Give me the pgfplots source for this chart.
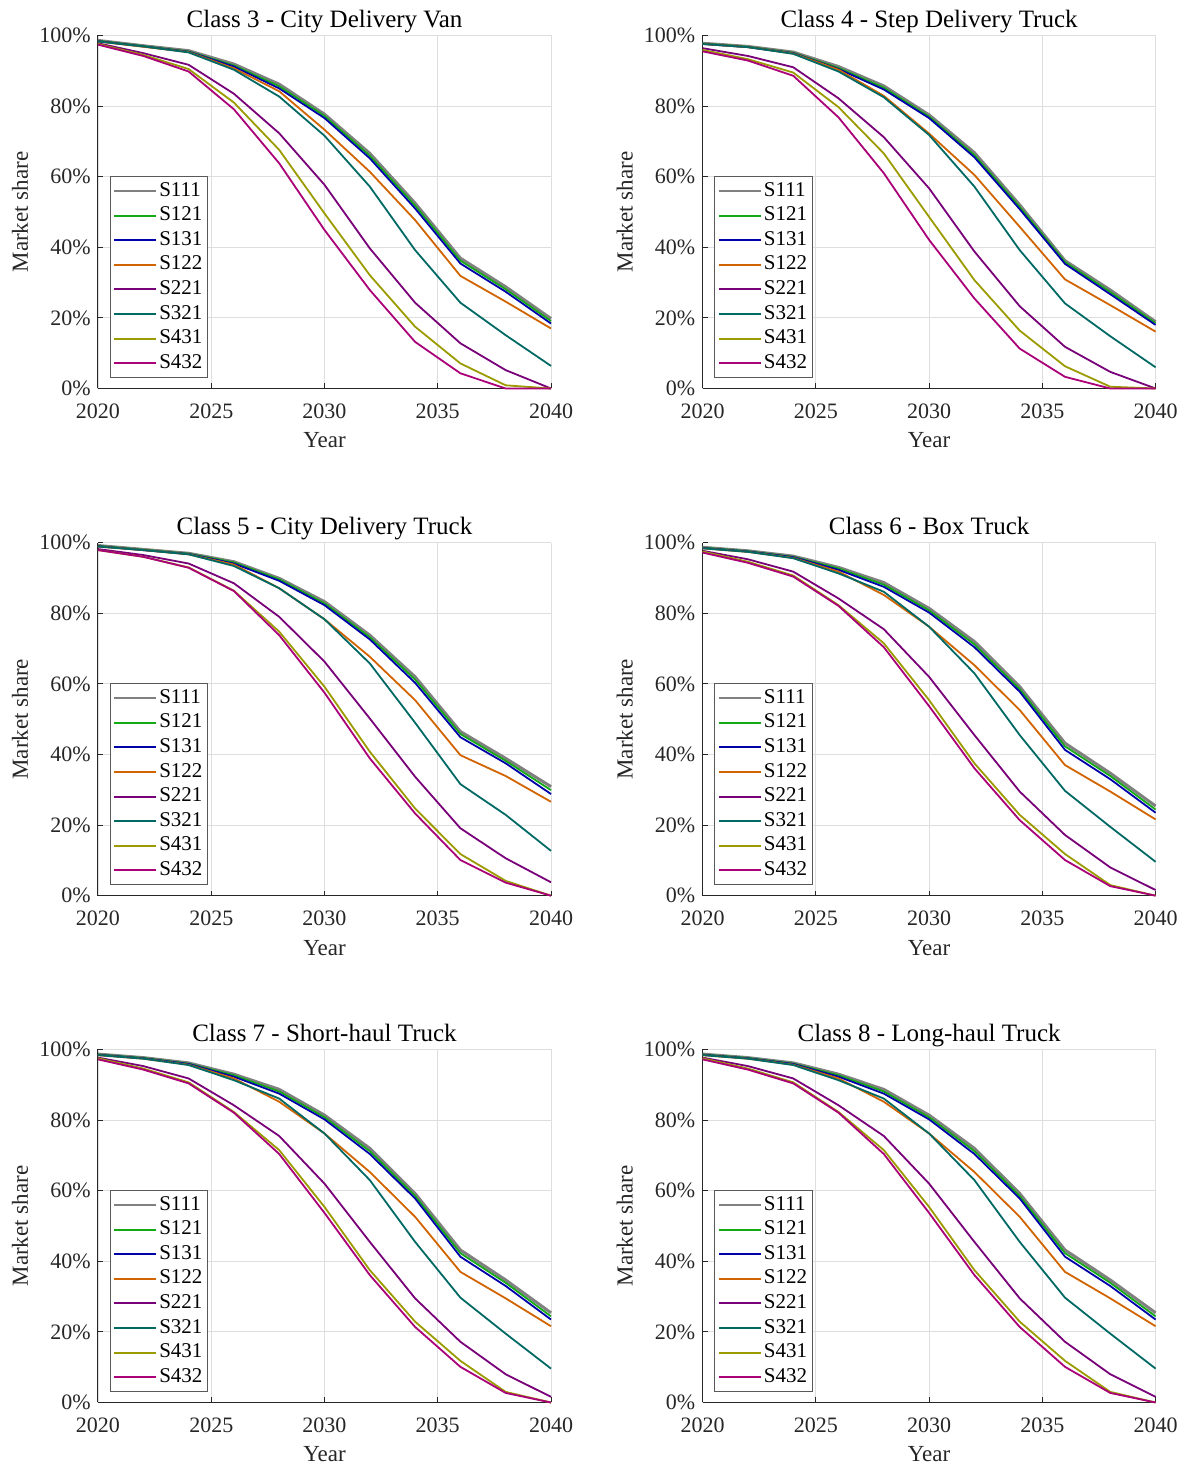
\documentclass[border=0pt]{standalone}
\usepackage{fontspec}
\setmainfont{Liberation Serif}
\usepackage{pgfplots}
\usepackage{pgfplotstable}
\pgfplotsset{compat=1.18}
\definecolor{cS111}{RGB}{128,128,128}
\definecolor{cS121}{RGB}{20,170,20}
\definecolor{cS131}{RGB}{0,0,170}
\definecolor{cS122}{RGB}{210,100,0}
\definecolor{cS221}{RGB}{120,0,120}
\definecolor{cS321}{RGB}{0,105,100}
\definecolor{cS431}{RGB}{155,155,0}
\definecolor{cS432}{RGB}{170,0,120}
\definecolor{axgray}{RGB}{38,38,38}

\pgfplotstableread{
year S111 S121 S131 S122 S221 S321 S431 S432
2020 98.6 98.5 98.4 98.3 97.8 98.3 97.6 97.4
2022 97.1 97.0 96.9 96.8 95.0 96.9 94.5 94.2
2024 95.7 95.5 95.4 95.3 91.7 95.2 90.5 89.8
2026 91.9 91.5 91.2 90.7 83.5 90.3 81.0 79.1
2028 86.2 85.6 85.0 84.2 72.3 82.7 67.6 63.8
2030 77.7 77.2 76.6 73.3 57.7 71.6 49.6 44.9
2032 66.6 65.9 65.2 61.4 39.7 57.2 32.1 27.9
2034 52.5 51.8 51.0 47.7 24.3 39.2 17.5 13.2
2036 36.9 36.2 35.4 31.9 12.8 24.3 7.1 4.3
2038 28.8 28.1 27.4 24.6 5.2 15.1 0.9 0.0
2040 19.8 19.1 18.4 17.0 0.0 6.4 0.0 0.0
}\tabA
\pgfplotstableread{
year S111 S121 S131 S122 S221 S321 S431 S432
2020 97.8 97.7 97.6 97.6 96.4 97.6 95.9 95.5
2022 96.9 96.8 96.7 96.7 94.2 96.7 93.3 92.9
2024 95.3 95.1 95.0 94.9 91.0 94.8 89.5 88.6
2026 91.2 90.8 90.5 90.3 82.2 89.8 79.7 76.8
2028 85.7 85.2 84.7 82.9 71.2 82.5 66.6 61.0
2030 77.5 77.0 76.6 72.2 56.7 71.8 48.6 42.1
2032 66.8 66.1 65.5 60.5 38.8 57.2 30.7 25.5
2034 52.0 51.4 50.8 45.8 23.3 39.2 16.4 11.3
2036 36.2 35.8 35.3 30.9 11.8 24.1 6.3 3.3
2038 27.9 27.3 26.7 23.6 4.7 14.8 0.5 0.0
2040 18.9 18.5 18.0 16.1 0.0 6.0 0.0 0.0
}\tabB
\pgfplotstableread{
year S111 S121 S131 S122 S221 S321 S431 S432
2020 99.2 99.1 99.0 98.9 98.2 98.9 97.9 97.9
2022 98.1 98.0 97.9 97.9 96.5 97.9 96.0 96.0
2024 97.0 96.9 96.8 96.7 94.1 96.7 93.0 92.9
2026 94.6 94.4 94.1 93.8 88.5 93.4 86.4 86.3
2028 89.9 89.6 89.2 87.1 79.0 87.1 74.8 73.8
2030 83.3 82.8 82.3 78.3 66.3 78.3 59.2 57.5
2032 73.8 73.2 72.6 67.7 50.2 65.8 40.8 38.9
2034 62.0 61.2 60.3 55.4 33.7 49.0 24.7 23.3
2036 46.5 45.8 44.9 39.8 19.1 31.6 11.8 10.1
2038 38.9 38.2 37.5 33.9 10.6 22.9 4.2 3.7
2040 30.9 29.9 28.8 26.6 3.8 12.7 0.0 0.0
}\tabC
\pgfplotstableread{
year S111 S121 S131 S122 S221 S321 S431 S432
2020 98.7 98.6 98.5 98.4 97.7 98.4 97.5 97.2
2022 97.7 97.6 97.5 97.4 95.3 97.4 94.6 94.3
2024 96.2 96.0 95.9 95.7 91.8 95.6 90.7 90.4
2026 93.0 92.7 92.3 91.8 84.2 91.3 82.3 82.1
2028 88.7 88.1 87.5 85.2 75.5 86.1 71.5 70.4
2030 81.4 80.8 80.2 76.2 62.0 76.2 55.4 53.7
2032 72.0 71.2 70.4 65.3 45.5 63.0 37.5 36.1
2034 59.2 58.5 57.8 52.6 29.5 45.5 22.9 21.4
2036 43.2 42.3 41.3 37.0 17.2 29.7 11.8 10.1
2038 34.7 33.9 33.0 29.5 8.0 19.5 3.0 2.7
2040 25.4 24.4 23.5 21.6 1.6 9.6 0.0 0.0
}\tabD
\pgfplotstableread{
year S111 S121 S131 S122 S221 S321 S431 S432
2020 98.7 98.6 98.5 98.4 97.7 98.4 97.5 97.2
2022 97.7 97.6 97.5 97.4 95.3 97.4 94.6 94.3
2024 96.2 96.0 95.9 95.7 91.8 95.6 90.7 90.4
2026 93.0 92.7 92.3 91.8 84.2 91.3 82.3 82.1
2028 88.7 88.1 87.5 85.2 75.5 86.1 71.5 70.4
2030 81.4 80.8 80.2 76.2 62.0 76.2 55.4 53.7
2032 72.0 71.2 70.4 65.3 45.5 63.0 37.5 36.1
2034 59.2 58.5 57.8 52.6 29.5 45.5 22.9 21.4
2036 43.2 42.3 41.3 37.0 17.2 29.7 11.8 10.1
2038 34.7 33.9 33.0 29.5 8.0 19.5 3.0 2.7
2040 25.4 24.4 23.5 21.6 1.6 9.6 0.0 0.0
}\tabE
\pgfplotstableread{
year S111 S121 S131 S122 S221 S321 S431 S432
2020 98.7 98.6 98.5 98.4 97.7 98.4 97.5 97.2
2022 97.7 97.6 97.5 97.4 95.3 97.4 94.6 94.3
2024 96.2 96.0 95.9 95.7 91.8 95.6 90.7 90.4
2026 93.0 92.7 92.3 91.8 84.2 91.3 82.3 82.1
2028 88.7 88.1 87.5 85.2 75.5 86.1 71.5 70.4
2030 81.4 80.8 80.2 76.2 62.0 76.2 55.4 53.7
2032 72.0 71.2 70.4 65.3 45.5 63.0 37.5 36.1
2034 59.2 58.5 57.8 52.6 29.5 45.5 22.9 21.4
2036 43.2 42.3 41.3 37.0 17.2 29.7 11.8 10.1
2038 34.7 33.9 33.0 29.5 8.0 19.5 3.0 2.7
2040 25.4 24.4 23.5 21.6 1.6 9.6 0.0 0.0
}\tabF

\pgfplotsset{
  panel/.style={
    scale only axis, width=226.5pt, height=176.5pt, anchor=south west,
    xmin=2020, xmax=2040, ymin=0, ymax=100,
    xtick={2020,2025,2030,2035,2040}, ytick={0,20,40,60,80,100},
    yticklabel={\pgfmathprintnumber{\tick}\%},
    /pgf/number format/assume math mode=true,
    /pgf/number format/1000 sep={},
    axis lines=left, axis line style={-, axgray, line width=0.5pt},
    tick style={axgray, line width=0.5pt}, tick align=inside,
    major tick length=2.5pt,
    grid=major, major grid style={black!13, line width=0.4pt},
    clip=false,
    tick label style={font=\fontsize{11}{13}\selectfont, text=axgray},
    xticklabel style={anchor=base, yshift=-15pt},
    yticklabel style={anchor=east, inner sep=0pt, xshift=-3.5pt},
    xlabel={Year}, ylabel={Market share},
    label style={font=\fontsize{11.5}{13}\selectfont, text=axgray},
    xlabel style={at={(axis description cs:0.5,-0.147)}, anchor=center},
    ylabel style={at={(axis description cs:-0.172,0.5)}, anchor=center},
    title style={font=\fontsize{12.5}{14}\selectfont, at={(axis description cs:0.5,1.022)}, anchor=base, yshift=-6pt},
    legend cell align=left,
    legend image code/.code={\draw[#1, line width=1pt] (0pt,0pt) -- (21pt,0pt);},
    legend style={at={(0.026,0.03)}, anchor=south west, draw=black!65,
      line width=0.5pt, fill=white, font=\fontsize{10.5}{12}\selectfont,
      row sep=0pt, inner xsep=1.5pt, inner ysep=1pt,
      nodes={inner xsep=1pt, inner ysep=1.2pt, text height=7.5pt, text depth=2.4pt, text=black}},
  }
}

\newcommand{\panel}[4]{%
\begin{axis}[panel, at={(#1,#2)}, title={#3}]
\addplot[cS111, line width=1.5pt] table[x=year,y=S111]{#4};
\addplot[cS121, line width=0.9pt] table[x=year,y=S121]{#4};
\addplot[cS131, line width=0.9pt] table[x=year,y=S131]{#4};
\addplot[cS122, line width=0.9pt] table[x=year,y=S122]{#4};
\addplot[cS221, line width=0.9pt] table[x=year,y=S221]{#4};
\addplot[cS321, line width=0.9pt] table[x=year,y=S321]{#4};
\addplot[cS431, line width=0.9pt] table[x=year,y=S431]{#4};
\addplot[cS432, line width=0.9pt] table[x=year,y=S432]{#4};
\legend{S111,S121,S131,S122,S221,S321,S431,S432}
\end{axis}}

\begin{document}
\begin{tikzpicture}
\path[use as bounding box] (0,0) rectangle (592.5pt,734pt);
\panel{49pt}{539.75pt}{Class 3 - City Delivery Van}{\tabA}
\panel{351.3pt}{539.75pt}{Class 4 - Step Delivery Truck}{\tabB}
\panel{49pt}{286.15pt}{Class 5 - City Delivery Truck}{\tabC}
\panel{351.3pt}{286.15pt}{Class 6 - Box Truck}{\tabD}
\panel{49pt}{32.75pt}{Class 7 - Short-haul Truck}{\tabE}
\panel{351.3pt}{32.75pt}{Class 8 - Long-haul Truck}{\tabF}
\end{tikzpicture}
\end{document}
